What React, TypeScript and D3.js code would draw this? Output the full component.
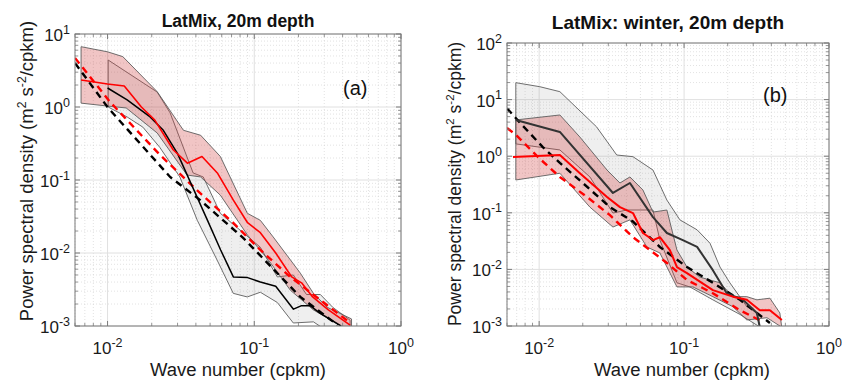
import React from 'react';
import * as d3 from 'd3';

// ---------------- ticks ----------------
const xTickValues = [0.01, 0.1, 1];
const xTickExponents = ['-2', '-1', '0'];
const yTickValuesA = [10, 1, 0.1, 0.01, 0.001];
const yTickExponentsA = ['1', '0', '-1', '-2', '-3'];
const yTickValuesB = [100, 10, 1, 0.1, 0.01, 0.001];
const yTickExponentsB = ['2', '1', '0', '-1', '-2', '-3'];

// ---------------- panel (a) ----------------
const aRedK = [0.0066, 0.010, 0.013, 0.017, 0.021, 0.028, 0.035, 0.044, 0.056, 0.072, 0.09, 0.11, 0.14, 0.18, 0.21, 0.25, 0.32, 0.45];
const aRedP = [2.34, 2.07, 1.94, 1.0, 0.66, 0.26, 0.17, 0.21, 0.125, 0.053, 0.026, 0.019, 0.010, 0.0047, 0.0039, 0.0025, 0.00166, 0.00103];
const aRedUpK = [0.0066, 0.010, 0.0127, 0.0218, 0.0329, 0.0431, 0.0587, 0.0897, 0.110, 0.1345, 0.206, 0.253, 0.315, 0.46];
const aRedUp = [6.7, 5.7, 4.9, 1.62, 0.48, 0.41, 0.21, 0.035, 0.028, 0.0166, 0.0053, 0.0028, 0.0018, 0.00125];
const aRedLoK = [0.0066, 0.010, 0.0134, 0.0218, 0.0348, 0.0431, 0.0587, 0.0897, 0.125, 0.176, 0.253, 0.39, 0.46];
const aRedLo = [1.13, 1.03, 0.97, 0.44, 0.117, 0.11, 0.062, 0.0177, 0.008, 0.0031, 0.00166, 0.001, 0.0009];

const aBlkK = [0.010, 0.0136, 0.0195, 0.024, 0.030, 0.038, 0.048, 0.059, 0.072, 0.09, 0.11, 0.14, 0.185, 0.21, 0.24, 0.28, 0.39];
const aBlkP = [1.82, 1.25, 0.73, 0.48, 0.23, 0.08, 0.028, 0.011, 0.0047, 0.0046, 0.0040, 0.0035, 0.0017, 0.0019, 0.0019, 0.0015, 0.001];
const aGrayUpK = [0.0101, 0.0218, 0.0267, 0.0383, 0.0449, 0.0587, 0.0843, 0.110, 0.1435, 0.1845, 0.227, 0.282, 0.343, 0.45];
const aGrayUp = [4.4, 1.6, 0.83, 0.125, 0.11, 0.035, 0.0188, 0.012, 0.0047, 0.005, 0.0027, 0.0027, 0.0018, 0.0012];
const aGrayLoK = [0.0101, 0.0136, 0.0174, 0.0227, 0.0311, 0.0409, 0.0558, 0.0719, 0.0896, 0.110, 0.1435, 0.1845, 0.253, 0.33, 0.45];
const aGrayLo = [1.0, 0.73, 0.53, 0.28, 0.11, 0.028, 0.008, 0.0028, 0.0025, 0.0029, 0.0021, 0.0011, 0.00114, 0.0008, 0.0007];

const aDashBlkK = [0.006, 0.0101, 0.0267, 0.0428, 0.0843, 0.206, 0.37];
const aDashBlk = [4.0, 0.97, 0.11, 0.053, 0.016, 0.0025, 0.00103];
const aDashRedK = [0.006, 0.0104, 0.0228, 0.0428, 0.0719, 0.110, 0.176, 0.282, 0.452];
const aDashRed = [4.7, 1.17, 0.22, 0.066, 0.0258, 0.011, 0.0047, 0.00227, 0.0011];

// ---------------- panel (b) ----------------
const bBlkK = [0.0069, 0.0139, 0.0323, 0.0423, 0.061, 0.0761, 0.098, 0.123, 0.158, 0.197, 0.255, 0.318, 0.333];
const bBlkP = [4.37, 2.68, 0.224, 0.336, 0.084, 0.044, 0.033, 0.025, 0.0097, 0.0038, 0.0029, 0.0017, 0.00096];
const bGrayUpK = [0.0069, 0.0101, 0.0139, 0.0249, 0.0343, 0.0444, 0.061, 0.0761, 0.0936, 0.123, 0.151, 0.177, 0.207, 0.271, 0.318, 0.333];
const bGrayUp = [19.9, 16.9, 13.8, 3.3, 1.05, 0.98, 0.57, 0.168, 0.075, 0.050, 0.029, 0.011, 0.0058, 0.0022, 0.0017, 0.00096];
const bGrayLoK = [0.0069, 0.0139, 0.0224, 0.0323, 0.0403, 0.061, 0.0681, 0.0893, 0.1097, 0.158, 0.243, 0.333];
const bGrayLo = [1.65, 1.29, 0.43, 0.099, 0.112, 0.112, 0.033, 0.0058, 0.0049, 0.0029, 0.0016, 0.00096];

const bRedK = [0.0066, 0.0139, 0.0191, 0.0294, 0.0361, 0.0444, 0.052, 0.061, 0.0681, 0.0798, 0.0893, 0.1047, 0.158, 0.217, 0.271, 0.333, 0.391, 0.473];
const bRedP = [0.97, 1.05, 0.50, 0.19, 0.126, 0.099, 0.044, 0.033, 0.037, 0.022, 0.011, 0.0086, 0.0043, 0.0033, 0.0029, 0.0019, 0.0019, 0.00128];
const bRedUpK = [0.0069, 0.0139, 0.0191, 0.0294, 0.0361, 0.0423, 0.052, 0.061, 0.0761, 0.0893, 0.1047, 0.1286, 0.1767, 0.217, 0.271, 0.318, 0.391, 0.458, 0.473];
const bRedUp = [4.37, 5.35, 2.18, 0.57, 0.336, 0.43, 0.253, 0.103, 0.112, 0.022, 0.011, 0.0073, 0.0058, 0.0033, 0.0033, 0.0029, 0.0031, 0.0017, 0.0009];
const bRedLoK = [0.0069, 0.0139, 0.0224, 0.0323, 0.0423, 0.0554, 0.0681, 0.0893, 0.115, 0.158, 0.217, 0.271, 0.373, 0.473];
const bRedLo = [0.38, 0.50, 0.126, 0.056, 0.075, 0.0249, 0.0195, 0.0049, 0.0049, 0.0033, 0.0022, 0.00128, 0.0014, 0.00095];

const bDashBlkK = [0.006, 0.0074, 0.0106, 0.0139, 0.020, 0.0308, 0.0444, 0.0681, 0.1047, 0.158, 0.243, 0.318, 0.391];
const bDashBlk = [7.0, 3.86, 1.45, 0.76, 0.336, 0.126, 0.07, 0.0249, 0.011, 0.0058, 0.0029, 0.0017, 0.00113];
const bDashRedK = [0.006, 0.0069, 0.0101, 0.0139, 0.0214, 0.0308, 0.0444, 0.0761, 0.1047, 0.158, 0.243, 0.350];
const bDashRed = [3.15, 2.4, 0.9, 0.43, 0.19, 0.091, 0.037, 0.013, 0.0065, 0.0038, 0.0019, 0.00118];

const FONT = 'Liberation Sans, Arial, Helvetica, sans-serif';
const X_DOMAIN: [number, number] = [0.006, 1];

function minorValues(lo: number, hi: number) {
  const out: number[] = [];
  for (let e = Math.floor(Math.log10(lo)); e <= Math.ceil(Math.log10(hi)); e++) {
    for (let m = 2; m <= 9; m++) {
      const v = m * Math.pow(10, e);
      if (v >= lo * 0.9999 && v <= hi * 1.0001) out.push(v);
    }
  }
  return out;
}

function Panel(props: any) {
  const { id, frame, yDomain, yTicks, yExps, grayBand, redBand, blk, red, dBlk, dRed, title, titleSize, titleY, label, labelX, labelY, xlabelX, ylabelX, ylabelY, ylabelSize, blkColor, blkWidth, redWidth } = props;
  const x = d3.scaleLog().domain(X_DOMAIN).range([frame.l, frame.r]);
  const y = d3.scaleLog().domain(yDomain).range([frame.b, frame.t]);
  const gen = d3.line<[number, number]>();
  const linePath = (k: number[], p: number[]) => gen(k.map((kk, i) => [x(kk), y(p[i])] as [number, number])) || '';
  const bandPath = (uk: number[], up: number[], lk: number[], lp: number[]) => {
    const pts: [number, number][] = uk.map((kk, i) => [x(kk), y(up[i])] as [number, number]);
    for (let i = lk.length - 1; i >= 0; i--) pts.push([x(lk[i]), y(lp[i])]);
    return (gen(pts) || '') + 'Z';
  };
  const xMinor = minorValues(X_DOMAIN[0], X_DOMAIN[1]);
  const yMinor = minorValues(yDomain[0], yDomain[1]);
  const axisColor = '#7a7a7a';
  const W = frame.r - frame.l;
  const H = frame.b - frame.t;
  return (
    <g>
      <defs>
        <clipPath id={id}>
          <rect x={frame.l} y={frame.t} width={W} height={H} />
        </clipPath>
      </defs>
      <rect x={frame.l} y={frame.t} width={W} height={H} fill="#fff" />
      {xMinor.map((v, i) => (
        <line key={'xm' + i} x1={x(v)} x2={x(v)} y1={frame.t} y2={frame.b} stroke="#cfcfcf" strokeWidth={0.6} strokeDasharray="1,2" />
      ))}
      {yMinor.map((v, i) => (
        <line key={'ym' + i} x1={frame.l} x2={frame.r} y1={y(v)} y2={y(v)} stroke="#cfcfcf" strokeWidth={0.6} strokeDasharray="1,2" />
      ))}
      {xTickValues.map((v, i) => (
        <line key={'xg' + i} x1={x(v)} x2={x(v)} y1={frame.t} y2={frame.b} stroke="#e0e0e0" strokeWidth={1} />
      ))}
      {yTicks.map((v: number, i: number) => (
        <line key={'yg' + i} x1={frame.l} x2={frame.r} y1={y(v)} y2={y(v)} stroke="#e0e0e0" strokeWidth={1} />
      ))}
      <g clipPath={`url(#${id})`}>
        <path d={bandPath(grayBand[0], grayBand[1], grayBand[2], grayBand[3])} fill="#808080" fillOpacity={0.13} stroke="#5e5e5e" strokeWidth={0.9} strokeLinejoin="round" />
        <path d={bandPath(redBand[0], redBand[1], redBand[2], redBand[3])} fill="#d04040" fillOpacity={0.3} stroke="#5e5e5e" strokeWidth={0.9} strokeLinejoin="round" />
        <path d={linePath(dBlk[0], dBlk[1])} fill="none" stroke="#000" strokeWidth={2.4} strokeDasharray="7,5" />
        <path d={linePath(dRed[0], dRed[1])} fill="none" stroke="#ff0000" strokeWidth={2.4} strokeDasharray="7,5" />
        <path d={linePath(blk[0], blk[1])} fill="none" stroke={blkColor} strokeWidth={blkWidth} strokeLinejoin="round" />
        <path d={linePath(red[0], red[1])} fill="none" stroke="#ff0000" strokeWidth={redWidth} strokeLinejoin="round" />
      </g>
      {xTickValues.map((v, i) => (
        <g key={'xt' + i}>
          <line x1={x(v)} x2={x(v)} y1={frame.b} y2={frame.b - 5} stroke={axisColor} />
          <line x1={x(v)} x2={x(v)} y1={frame.t} y2={frame.t + 5} stroke={axisColor} />
        </g>
      ))}
      {xMinor.map((v, i) => (
        <g key={'xmt' + i}>
          <line x1={x(v)} x2={x(v)} y1={frame.b} y2={frame.b - 3} stroke={axisColor} strokeWidth={0.8} />
          <line x1={x(v)} x2={x(v)} y1={frame.t} y2={frame.t + 3} stroke={axisColor} strokeWidth={0.8} />
        </g>
      ))}
      {yTicks.map((v: number, i: number) => (
        <g key={'yt' + i}>
          <line x1={frame.l} x2={frame.l + 5} y1={y(v)} y2={y(v)} stroke={axisColor} />
          <line x1={frame.r} x2={frame.r - 5} y1={y(v)} y2={y(v)} stroke={axisColor} />
        </g>
      ))}
      {yMinor.map((v, i) => (
        <g key={'ymt' + i}>
          <line x1={frame.l} x2={frame.l + 3} y1={y(v)} y2={y(v)} stroke={axisColor} strokeWidth={0.8} />
          <line x1={frame.r} x2={frame.r - 3} y1={y(v)} y2={y(v)} stroke={axisColor} strokeWidth={0.8} />
        </g>
      ))}
      <rect x={frame.l} y={frame.t} width={W} height={H} fill="none" stroke={axisColor} strokeWidth={1} />
      {xTickValues.map((v, i) => (
        <text key={'xl' + i} x={x(v)} y={354} textAnchor="middle" fontFamily={FONT} fontSize={17} fill="#1a1a1a">
          10<tspan dy={-7.5} fontSize={12.5}>{xTickExponents[i]}</tspan>
        </text>
      ))}
      {yTicks.map((v: number, i: number) => (
        <text key={'yl' + i} x={frame.l - 5} y={y(v) + 7} textAnchor="end" fontFamily={FONT} fontSize={17} fill="#1a1a1a">
          10<tspan dy={-7.5} fontSize={12.5}>{yExps[i]}</tspan>
        </text>
      ))}
      <text x={(frame.l + frame.r) / 2} y={titleY} textAnchor="middle" fontFamily={FONT} fontWeight="bold" fontSize={titleSize} fill="#111">{title}</text>
      <text x={labelX} y={labelY} fontFamily={FONT} fontSize={20} fill="#111">{label}</text>
      <text x={xlabelX} y={376} textAnchor="middle" fontFamily={FONT} fontSize={18} textLength={176} lengthAdjust="spacingAndGlyphs" fill="#1a1a1a">Wave number (cpkm)</text>
      <text transform={`translate(${ylabelX},${ylabelY}) rotate(-90)`} textAnchor="middle" fontFamily={FONT} fontSize={ylabelSize} fill="#1a1a1a">
        Power spectral density (m<tspan dy={-7} fontSize={ylabelSize * 0.66}>2</tspan><tspan dy={7}> s</tspan><tspan dy={-7} fontSize={ylabelSize * 0.66}>-2</tspan><tspan dy={7}>/cpkm)</tspan>
      </text>
    </g>
  );
}

export default function App() {
  return (
    <svg width={842} height={387} viewBox="0 0 842 387" style={{ position: 'absolute', left: 0, top: 0, background: '#fff' }}>
      <rect x={0} y={0} width={842} height={387} fill="#fff" />
      <Panel
        id="clipA"
        frame={{ l: 75, r: 401, t: 34, b: 326 }}
        yDomain={[0.001, 10]}
        yTicks={yTickValuesA}
        yExps={yTickExponentsA}
        grayBand={[aGrayUpK, aGrayUp, aGrayLoK, aGrayLo]}
        redBand={[aRedUpK, aRedUp, aRedLoK, aRedLo]}
        blk={[aBlkK, aBlkP]}
        red={[aRedK, aRedP]}
        dBlk={[aDashBlkK, aDashBlk]}
        dRed={[aDashRedK, aDashRed]}
        blkColor="#000"
        blkWidth={1.5}
        redWidth={1.6}
        title="LatMix, 20m depth"
        titleSize={17.5}
        titleY={27}
        label="(a)"
        labelX={343}
        labelY={95}
        xlabelX={238}
        ylabelX={33}
        ylabelY={171}
        ylabelSize={18.5}
      />
      <Panel
        id="clipB"
        frame={{ l: 507, r: 829, t: 43, b: 326 }}
        yDomain={[0.001, 100]}
        yTicks={yTickValuesB}
        yExps={yTickExponentsB}
        grayBand={[bGrayUpK, bGrayUp, bGrayLoK, bGrayLo]}
        redBand={[bRedUpK, bRedUp, bRedLoK, bRedLo]}
        blk={[bBlkK, bBlkP]}
        red={[bRedK, bRedP]}
        dBlk={[bDashBlkK, bDashBlk]}
        dRed={[bDashRedK, bDashRed]}
        blkColor="#333"
        blkWidth={2}
        redWidth={2}
        title="LatMix: winter, 20m depth"
        titleSize={19}
        titleY={29}
        label="(b)"
        labelX={763}
        labelY={102}
        xlabelX={682}
        ylabelX={461}
        ylabelY={184}
        ylabelSize={17.5}
      />
    </svg>
  );
}
